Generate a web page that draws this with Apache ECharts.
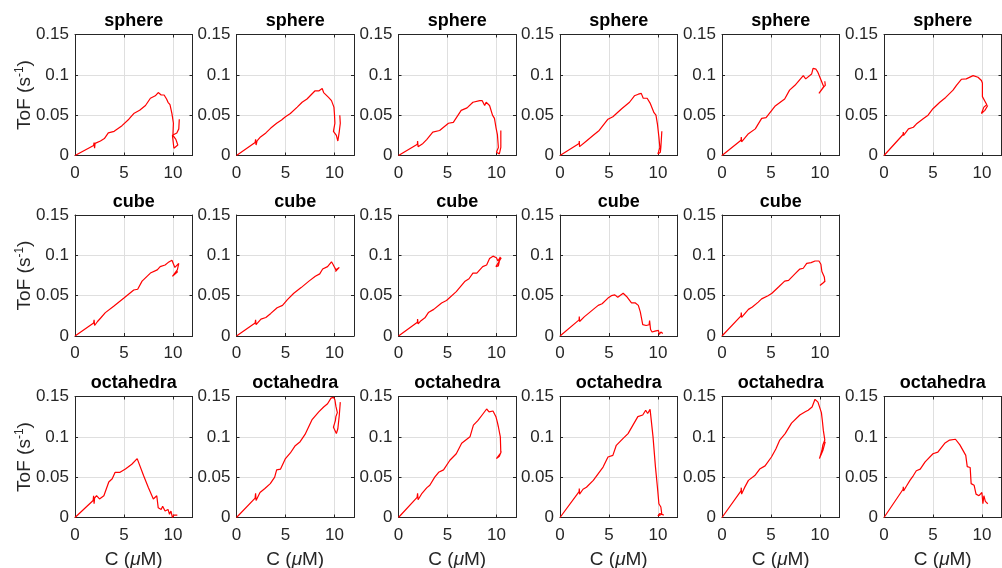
<!DOCTYPE html>
<html>
<head>
<meta charset="utf-8">
<title>ToF vs C</title>
<script src="https://cdn.jsdelivr.net/npm/echarts@6/dist/echarts.min.js"></script>
<style>
    html, body { margin: 0; padding: 0; background: #fff; }
    #main { width: 1002px; height: 568px; }
</style>
</head>
<body>
<div id="main"></div>
<script>
// 坐标轴刻度
var xTicks = [0, 5, 10];
var xMax = 12;
var yTicks = [0, 0.05, 0.1, 0.15];

// 每行的标题
var rowTitles = ['sphere', 'cube', 'octahedra'];

// sphere 六组 [C, ToF]
var sphere1 = [[0,0],[1.9,0.0125],[1.95,0.016],[2.0,0.009],[2.05,0.015],[2.2,0.014],[2.6,0.018],[3.0,0.021],[3.4,0.028],[4.0,0.030],[4.8,0.037],[5.5,0.045],[6.0,0.052],[6.6,0.056],[7.2,0.062],[7.7,0.071],[8.2,0.074],[8.5,0.078],[8.8,0.075],[9.1,0.075],[9.3,0.077],[9.35,0.070],[9.5,0.066],[9.7,0.063],[9.9,0.052],[10.0,0.050],[10.05,0.040],[10.0,0.025],[10.3,0.020],[10.5,0.013],[10.1,0.009],[9.95,0.025],[10.4,0.028],[10.6,0.033],[10.65,0.045]];
var sphere2 = [[0,0],[1.9,0.016],[1.95,0.02],[2.0,0.013],[2.1,0.018],[2.45,0.023],[3.0,0.028],[3.5,0.034],[4.1,0.040],[4.6,0.044],[5.0,0.048],[5.5,0.052],[6.2,0.060],[6.7,0.066],[7.2,0.07],[7.6,0.075],[8.0,0.080],[8.4,0.080],[8.75,0.083],[8.9,0.078],[9.1,0.077],[9.4,0.072],[9.7,0.068],[9.95,0.06],[10.0,0.052],[10.05,0.04],[9.9,0.03],[10.2,0.025],[10.35,0.018],[10.5,0.03],[10.6,0.04],[10.55,0.05]];
var sphere3 = [[0,0],[1.93,0.014],[1.95,0.018],[2.0,0.011],[2.5,0.015],[2.9,0.02],[3.5,0.029],[4.2,0.031],[5.1,0.040],[5.6,0.041],[6.4,0.056],[7.0,0.059],[7.6,0.066],[8.3,0.068],[8.55,0.068],[8.8,0.062],[8.95,0.066],[9.3,0.062],[9.6,0.050],[9.8,0.046],[9.95,0.035],[10.1,0.026],[10.2,0.010],[10.0,0.004],[10.3,0.002],[10.45,0.010],[10.45,0.031]];
var sphere4 = [[0,0],[1.95,0.015],[1.97,0.018],[2.0,0.011],[2.7,0.018],[3.4,0.025],[4.0,0.031],[4.9,0.045],[5.4,0.048],[6.3,0.058],[7.1,0.066],[7.6,0.074],[8.0,0.076],[8.3,0.077],[8.5,0.071],[8.9,0.071],[9.2,0.065],[9.6,0.053],[9.8,0.05],[9.95,0.039],[10.1,0.023],[10.2,0.01],[10.0,0.002],[10.25,0.004],[10.3,0.01],[10.4,0.03]];
var sphere5 = [[0,0],[1.94,0.019],[1.97,0.023],[2.0,0.017],[2.7,0.027],[3.4,0.033],[4.05,0.046],[4.5,0.047],[5.4,0.061],[6.4,0.070],[6.9,0.081],[7.45,0.087],[8.3,0.099],[8.55,0.095],[9.15,0.101],[9.3,0.108],[9.6,0.107],[9.8,0.103],[10.0,0.103],[10.1,0.094],[10.3,0.093],[10.4,0.085],[10.25,0.083],[9.9,0.077],[10.3,0.084],[10.55,0.087],[10.5,0.092]];
var sphere6 = [[0,0],[1.95,0.026],[1.97,0.029],[2.0,0.025],[2.5,0.033],[3.0,0.035],[3.3,0.039],[4.0,0.0455],[4.5,0.050],[5.0,0.058],[5.7,0.066],[6.3,0.072],[7.05,0.081],[7.4,0.087],[7.9,0.0945],[8.4,0.095],[9.1,0.099],[9.6,0.097],[9.95,0.093],[10.05,0.09],[10.05,0.073],[10.2,0.072],[10.5,0.063],[10.2,0.060],[9.95,0.052],[10.3,0.056],[10.6,0.062]];

// cube 五组
var cube1 = [[0,0],[1.9,0.016],[1.95,0.02],[2.0,0.013],[2.3,0.018],[2.6,0.022],[3.1,0.029],[3.95,0.037],[5.0,0.047],[6.0,0.057],[6.4,0.058],[6.85,0.068],[7.7,0.078],[8.4,0.082],[8.7,0.086],[9.2,0.088],[9.5,0.091],[9.9,0.094],[10.1,0.093],[10.2,0.085],[10.4,0.087],[10.6,0.090],[10.45,0.082],[10.3,0.081],[9.95,0.074],[10.5,0.08]];
var cube2 = [[0,0],[1.9,0.016],[1.95,0.02],[2.0,0.014],[2.5,0.021],[3.0,0.023],[3.5,0.028],[4.15,0.035],[4.7,0.038],[5.2,0.045],[5.85,0.053],[6.6,0.060],[7.4,0.068],[8.05,0.074],[8.5,0.077],[8.8,0.083],[9.3,0.086],[9.7,0.092],[9.85,0.089],[10.0,0.091],[10.15,0.082],[10.3,0.080],[10.5,0.085],[10.6,0.083],[10.1,0.080]];
var cube3 = [[0,0],[1.93,0.017],[1.95,0.021],[2.0,0.015],[2.3,0.019],[2.7,0.0225],[3.05,0.029],[3.6,0.033],[4.4,0.041],[4.9,0.044],[5.9,0.055],[6.8,0.068],[7.2,0.071],[7.6,0.078],[8.0,0.078],[8.6,0.086],[9.0,0.088],[9.3,0.096],[9.65,0.099],[9.85,0.099],[10.0,0.097],[10.15,0.093],[10.4,0.098],[10.2,0.087],[9.95,0.086],[10.3,0.093],[10.5,0.097]];
var cube4 = [[0,0],[1.95,0.02],[1.97,0.024],[2.0,0.018],[2.5,0.024],[3.0,0.029],[3.4,0.033],[3.9,0.038],[4.3,0.040],[4.9,0.047],[5.25,0.050],[5.6,0.051],[5.9,0.048],[6.1,0.050],[6.45,0.053],[6.8,0.049],[7.3,0.041],[7.7,0.041],[8.0,0.038],[8.2,0.030],[8.45,0.014],[8.8,0.013],[9.1,0.014],[9.15,0.019],[9.25,0.008],[9.4,0.005],[9.7,0.006],[9.9,0.004],[10.05,0.007],[10.15,0.002],[10.3,0.005],[10.5,0.003]];
var cube5 = [[0,0],[1.94,0.025],[1.97,0.029],[2.0,0.023],[2.7,0.033],[3.1,0.036],[3.7,0.042],[4.05,0.046],[4.7,0.050],[5.1,0.053],[5.8,0.061],[6.4,0.068],[6.8,0.069],[7.2,0.074],[7.45,0.077],[7.95,0.083],[8.3,0.084],[8.65,0.090],[9.1,0.091],[9.5,0.093],[9.65,0.0945],[9.9,0.093],[10.1,0.089],[10.2,0.080],[10.45,0.073],[10.5,0.068],[10.25,0.065],[10.0,0.0625],[10.35,0.066],[10.55,0.068]];

// octahedra 六组
var octa1 = [[0,0],[1.85,0.021],[1.9,0.027],[1.95,0.017],[2.0,0.024],[2.2,0.027],[2.5,0.023],[2.95,0.027],[3.45,0.044],[3.8,0.048],[4.1,0.056],[4.6,0.056],[5.15,0.060],[5.8,0.066],[6.35,0.073],[7.0,0.052],[7.5,0.037],[8.0,0.023],[8.35,0.027],[8.5,0.012],[8.8,0.010],[8.95,0.014],[9.2,0.008],[9.5,0.010],[9.65,0.004],[9.8,0.008],[9.95,0.0],[10.1,0.003],[10.3,0.001],[10.45,0.003]];
var octa2 = [[0,0],[1.9,0.024],[1.95,0.03],[2.0,0.021],[2.4,0.031],[2.9,0.036],[3.45,0.042],[3.9,0.050],[4.1,0.059],[4.5,0.060],[5.0,0.073],[5.5,0.080],[6.0,0.089],[6.5,0.094],[7.0,0.103],[7.7,0.121],[8.4,0.131],[8.9,0.137],[9.3,0.141],[9.65,0.148],[9.9,0.149],[10.05,0.146],[10.15,0.138],[10.3,0.130],[10.15,0.125],[10.1,0.12],[9.9,0.112],[10.2,0.104],[10.35,0.11],[10.5,0.127],[10.6,0.143]];
var octa3 = [[0,0],[1.9,0.025],[1.95,0.03],[2.0,0.022],[2.4,0.030],[2.9,0.037],[3.2,0.04],[3.7,0.05],[4.1,0.056],[4.6,0.059],[5.25,0.071],[5.9,0.079],[6.45,0.092],[7.3,0.10],[7.65,0.1145],[8.1,0.12],[8.6,0.128],[9.0,0.1345],[9.25,0.131],[9.65,0.132],[9.95,0.125],[10.1,0.118],[10.2,0.1125],[10.4,0.1],[10.5,0.099],[10.45,0.08],[10.3,0.078],[10.0,0.073],[10.3,0.076],[10.5,0.082]];
var octa4 = [[0,0],[1.95,0.032],[1.97,0.036],[2.0,0.029],[2.35,0.035],[2.7,0.0375],[3.4,0.046],[4.4,0.0625],[4.9,0.075],[5.4,0.077],[5.75,0.0895],[6.45,0.098],[6.95,0.104],[7.45,0.1145],[7.95,0.125],[8.45,0.127],[8.75,0.133],[8.95,0.129],[9.2,0.134],[9.5,0.100],[9.75,0.0625],[9.95,0.0375],[10.1,0.017],[10.3,0.013],[10.4,0.004],[10.0,0.002],[10.2,0.005],[10.6,0.003]];
var octa5 = [[0,0],[1.94,0.033],[1.97,0.037],[2.0,0.029],[2.3,0.037],[2.7,0.046],[3.35,0.052],[3.85,0.060],[4.4,0.064],[5.05,0.075],[5.5,0.085],[5.9,0.096],[6.45,0.104],[7.1,0.117],[7.95,0.127],[8.5,0.131],[8.8,0.133],[9.2,0.137],[9.5,0.1465],[9.8,0.143],[10.0,0.145],[10.15,0.13],[10.25,0.12],[10.35,0.108],[10.5,0.096],[10.3,0.09],[10.2,0.083],[9.95,0.073],[10.3,0.083],[10.55,0.094]];
var octa6 = [[0,0],[1.95,0.035],[1.97,0.038],[2.0,0.033],[2.3,0.039],[2.65,0.046],[3.0,0.052],[3.3,0.058],[3.7,0.06],[4.2,0.069],[5.0,0.079],[5.5,0.081],[6.2,0.092],[6.7,0.096],[7.3,0.097],[7.75,0.090],[8.35,0.077],[8.5,0.063],[8.8,0.062],[8.9,0.042],[9.2,0.040],[9.4,0.029],[9.7,0.027],[9.85,0.025],[10.0,0.031],[10.1,0.017],[10.2,0.027],[10.35,0.02],[10.6,0.017]];

var rows = [
    [sphere1, sphere2, sphere3, sphere4, sphere5, sphere6],
    [cube1, cube2, cube3, cube4, cube5],
    [octa1, octa2, octa3, octa4, octa5, octa6]
];

var myChart = echarts.init(document.getElementById('main'));

// 布局 (像素)
var colLeft = [75, 236.5, 398.5, 560, 722, 884];
var rowTop = [34.5, 215, 396.5];
var plotW = 117.5;
var plotH = 121;
var font = '"Liberation Sans", Arial, Helvetica, sans-serif';
var ink = '#262626';

var grids = [], xAxes = [], yAxes = [], series = [], graphics = [];

function addPanel(r, c, data) {
    var g = grids.length;
    var left = colLeft[c], top = rowTop[r];
    grids.push({
        left: left, top: top, width: plotW, height: plotH,
        show: false, containLabel: false, outerBoundsMode: 'none'
    });
    //下方x轴
    xAxes.push({
        gridIndex: g, type: 'value', position: 'bottom',
        min: xTicks[0], max: xMax, interval: xTicks[1] - xTicks[0],
        axisLine: {show: true, onZero: false, lineStyle: {color: ink, width: 1}},
        axisTick: {show: true, inside: true, length: 3, lineStyle: {color: ink}},
        axisLabel: {show: true, margin: 9, color: ink, fontSize: 17, fontFamily: font, showMaxLabel: false},
        splitLine: {show: true, showMinLine: false, showMaxLine: false, lineStyle: {color: '#dfdfdf', width: 1}},
        name: r === 2 ? '{a|C (}{i|μ}{a|M)}' : '',
        nameLocation: 'middle', nameGap: 33,
        nameTextStyle: {
            rich: {
                a: {fontSize: 19, color: ink, fontFamily: font},
                i: {fontSize: 19, color: ink, fontFamily: font, fontStyle: 'italic'}
            }
        }
    });
    //上方镜像轴（边框）
    xAxes.push({
        gridIndex: g, type: 'value', position: 'top',
        min: xTicks[0], max: xMax, interval: xTicks[1] - xTicks[0],
        axisLine: {show: true, onZero: false, lineStyle: {color: ink, width: 1}},
        axisTick: {show: true, inside: true, length: 3, lineStyle: {color: ink}},
        axisLabel: {show: false},
        splitLine: {show: false}
    });
    yAxes.push({
        gridIndex: g, type: 'value', position: 'left',
        min: yTicks[0], max: yTicks[yTicks.length - 1], interval: yTicks[1] - yTicks[0],
        axisLine: {show: true, onZero: false, lineStyle: {color: ink, width: 1}},
        axisTick: {show: true, inside: true, length: 3, lineStyle: {color: ink}},
        axisLabel: {show: true, margin: 6, color: ink, fontSize: 17, fontFamily: font},
        splitLine: {show: true, showMinLine: false, showMaxLine: false, lineStyle: {color: '#dfdfdf', width: 1}},
        name: c === 0 ? '{a|ToF (s}{s|-1}{a|)}' : '',
        nameLocation: 'middle', nameGap: 39, nameRotate: 90, nameMoveOverlap: false,
        nameTextStyle: {
            rich: {
                a: {fontSize: 19, color: ink, fontFamily: font, lineHeight: 22},
                s: {fontSize: 12, color: ink, fontFamily: font, verticalAlign: 'top', lineHeight: 22}
            }
        }
    });
    //右侧镜像轴（边框）
    yAxes.push({
        gridIndex: g, type: 'value', position: 'right',
        min: yTicks[0], max: yTicks[yTicks.length - 1], interval: yTicks[1] - yTicks[0],
        axisLine: {show: true, onZero: false, lineStyle: {color: ink, width: 1}},
        axisTick: {show: true, inside: true, length: 3, lineStyle: {color: ink}},
        axisLabel: {show: false},
        splitLine: {show: false}
    });
    series.push({
        type: 'line', xAxisIndex: 2 * g, yAxisIndex: 2 * g,
        data: data, showSymbol: false, symbol: 'none', smooth: false,
        lineStyle: {color: '#ff0000', width: 1.2}, itemStyle: {color: '#ff0000'},
        animation: false, silent: true
    });
    // 标题
    graphics.push({
        type: 'text', x: left + plotW / 2, y: top - 13,
        style: {
            text: rowTitles[r], textAlign: 'center', textVerticalAlign: 'middle',
            fontSize: 18, fontWeight: 'bold', fontFamily: font, fill: '#000'
        }
    });
}

for (var r = 0; r < rows.length; r++) {
    for (var c = 0; c < rows[r].length; c++) {
        addPanel(r, c, rows[r][c]);
    }
}

var option = {
    backgroundColor: '#fff',
    animation: false,
    grid: grids,
    xAxis: xAxes,
    yAxis: yAxes,
    series: series,
    graphic: graphics
};
myChart.setOption(option);
</script>
</body>
</html>
